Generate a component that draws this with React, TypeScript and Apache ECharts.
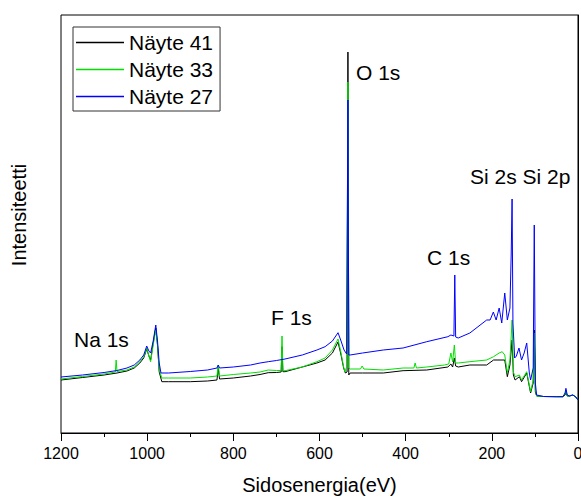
import React, { useEffect, useRef } from "react";
import * as echarts from "echarts";

const FONT = '"Liberation Sans", Arial, sans-serif';

const seriesNames = ["Näyte 41", "Näyte 33", "Näyte 27"];
const seriesColors = ["#000000", "#00e000", "#0000ff"];

// [binding energy (eV), intensity (arb. units)]
const naayte41: [number, number][] = [
  [1200, 53], [1150, 55.5], [1100, 58], [1070, 60], [1047, 62], [1030, 65], [1017, 70], [1008, 75],
  [1001, 84], [996, 77], [992, 73], [986, 90], [980, 105], [976, 88], [972, 61], [966, 51.3],
  [950, 51.3], [900, 51.3], [860, 52], [838, 53], [835, 65], [832, 54], [800, 55], [760, 57],
  [738, 58.5], [719, 60.3], [700, 60.5], [689, 61], [687, 86.3], [685, 61.3], [680, 61.3], [640, 66],
  [606, 70], [587, 73], [570, 80], [557, 91], [550, 78], [544, 65], [540, 60], [536, 61],
  [534, 381], [532, 58], [529, 60], [500, 60], [452, 60], [406, 62.3], [351, 63], [302, 66],
  [295, 69], [291, 66], [287, 75], [284, 67], [278, 66], [251, 68], [212, 68], [196, 73],
  [170, 73], [164, 56.3], [158, 68], [153, 93], [150, 58], [146, 53], [136, 56.3], [131, 51.3],
  [119, 60], [110, 40], [104, 50], [101.5, 103], [99, 41], [96, 37], [80, 36.5], [50, 36.3],
  [35, 36.3], [30, 38], [28, 41], [25, 37], [20, 37], [12, 38], [5, 36], [0, 33],
];

const naayte33: [number, number][] = [
  [1200, 54], [1150, 56.5], [1100, 59], [1074, 61], [1072, 73], [1070, 61.5], [1047, 63], [1030, 66],
  [1017, 71.3], [1008, 76], [1001, 85], [996, 77], [992, 71.3], [986, 88], [980, 103], [976, 88],
  [972, 63], [966, 55], [950, 55], [900, 55], [860, 56], [838, 57], [835, 68], [832, 57],
  [800, 58.5], [760, 60], [738, 61], [719, 63], [700, 62.5], [689, 62.5], [687, 97], [685, 62.3],
  [680, 62.3], [640, 66], [606, 71.3], [587, 75], [570, 83], [557, 94], [550, 80], [544, 66],
  [541, 61.3], [537, 66], [534, 351], [532, 65], [529, 64], [505, 64], [501, 67], [497, 64],
  [452, 63], [406, 65], [381, 65], [378, 70], [375, 65], [351, 66], [310, 68], [300, 69],
  [295, 80], [291, 71], [287, 88], [284, 70], [278, 70], [251, 71.3], [212, 73], [196, 76.3],
  [183, 80], [176, 81.3], [170, 78], [164, 60], [158, 73], [153, 113], [150, 61], [146, 56.3],
  [136, 58], [131, 53], [119, 61.3], [110, 41.3], [104, 53], [101.5, 100], [99, 43], [96, 37],
  [80, 36.5], [50, 36.3], [35, 36.3], [30, 39], [28, 43], [25, 37], [20, 37], [12, 38],
  [5, 36], [0, 33],
];

const naayte27: [number, number][] = [
  [1200, 56], [1150, 58], [1100, 60.5], [1070, 62.5], [1047, 65], [1030, 68], [1017, 73], [1008, 78],
  [1001, 87], [996, 82], [992, 80], [986, 92], [980, 108], [976, 92], [972, 70], [968, 60],
  [950, 60], [900, 61.5], [860, 63], [838, 65], [835, 68], [832, 65], [800, 66], [760, 68],
  [738, 70], [719, 71.3], [700, 72.5], [680, 74], [640, 78], [606, 83], [587, 86.3], [570, 92],
  [557, 100.3], [550, 92], [543, 83], [537, 79], [534, 333], [532, 78], [529, 78], [500, 80],
  [452, 83], [406, 85], [351, 91.3], [302, 96.3], [295, 98], [288, 97], [286, 158], [284, 96],
  [278, 95], [251, 100], [212, 113], [204, 113], [196.5, 121], [190, 113], [183, 125], [177, 110],
  [170, 140], [164, 113], [158, 125], [155, 180], [153, 234], [151, 110], [147, 75], [143, 77],
  [137, 85], [131, 73], [125, 80], [119, 90], [113, 60], [110, 53], [104, 65], [101.5, 208],
  [99, 50], [96, 38], [80, 36.5], [50, 36.3], [35, 36.3], [30, 40], [28, 44.7], [25, 38],
  [20, 37], [12, 38], [5, 36], [0, 33],
];

const seriesData = [naayte41, naayte33, naayte27];

const xTitle = "Sidosenergia(eV)";
const yTitle = "Intensiteetti";

const peakLabels = [
  { text: "O 1s", x: 356, y: 72 },
  { text: "Si 2s Si 2p", x: 470, y: 176 },
  { text: "C 1s", x: 427, y: 257 },
  { text: "F 1s", x: 271, y: 317 },
  { text: "Na 1s", x: 74, y: 339 },
];

export default function App() {
  const ref = useRef<HTMLDivElement>(null);
  useEffect(() => {
    if (!ref.current) return;
    const chart = echarts.init(ref.current, undefined, { renderer: "svg" });
    chart.setOption({
      animation: false,
      backgroundColor: "#ffffff",
      grid: {
        left: 61,
        right: 3,
        top: 15,
        bottom: 65,
        show: true,
        borderColor: "#000",
        borderWidth: 1,
        backgroundColor: "transparent",
        containLabel: false,
        outerBoundsMode: "none",
      },
      legend: {
        orient: "vertical",
        left: 73,
        top: 27,
        icon: "rect",
        itemWidth: 48,
        itemHeight: 1.6,
        itemGap: 6,
        padding: [5, 7, 4, 3],
        borderColor: "#333",
        borderWidth: 1,
        textStyle: { fontSize: 21, color: "#000", fontFamily: FONT },
        data: seriesNames,
      },
      xAxis: {
        type: "value",
        min: 0,
        max: 1200,
        interval: 200,
        inverse: true,
        axisLine: { show: true, lineStyle: { color: "#000", width: 1 } },
        axisTick: { show: true, inside: false, length: 8, lineStyle: { color: "#000" } },
        minorTick: { show: true, splitNumber: 2, length: 4, lineStyle: { color: "#000" } },
        axisLabel: {
          color: "#000",
          fontSize: 16,
          fontFamily: FONT,
          margin: 12,
          formatter: (v: number) => String(v),
        },
        splitLine: { show: false },
        name: xTitle,
        nameLocation: "middle",
        nameGap: 42,
        nameTextStyle: { fontSize: 20, color: "#000", fontFamily: FONT },
      },
      yAxis: {
        type: "value",
        min: 0,
        max: 418,
        axisLine: { show: true, lineStyle: { color: "#000", width: 1 } },
        axisTick: { show: false },
        axisLabel: { show: false },
        splitLine: { show: false },
      },
      graphic: [
        {
          type: "text",
          x: 19,
          y: 215,
          rotation: Math.PI / 2,
          style: {
            text: yTitle,
            fill: "#000",
            font: `20px ${FONT}`,
            align: "center",
            verticalAlign: "middle",
          },
        },
        ...peakLabels.map((p) => ({
          type: "text",
          x: p.x,
          y: p.y,
          z: 100,
          style: {
            text: p.text,
            fill: "#000",
            font: `21px ${FONT}`,
            align: "left",
            verticalAlign: "middle",
          },
        })),
      ],
      series: seriesNames.map((name, i) => ({
        name,
        type: "line",
        data: seriesData[i],
        symbol: "none",
        showSymbol: false,
        color: seriesColors[i],
        lineStyle: { color: seriesColors[i], width: 1 },
        emphasis: { disabled: true },
      })),
    });
    return () => chart.dispose();
  }, []);
  return (
    <div
      ref={ref}
      style={{ position: "fixed", left: 0, top: 0, width: 581, height: 498, background: "#fff" }}
    />
  );
}
